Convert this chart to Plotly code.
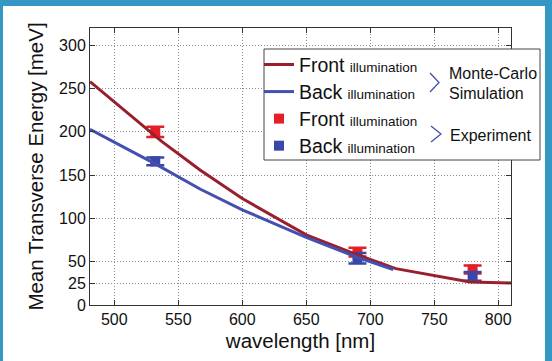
import plotly.graph_objects as go

# ---- data ----
sim_wavelength_front = [481, 537, 567, 600, 650, 690, 720, 778, 810]
sim_energy_front = [258, 189, 156, 123, 81, 58, 42, 26.5, 25.5]
sim_wavelength_back = [481, 532, 567, 600, 650, 690, 718]
sim_energy_back = [203, 163, 134, 110, 78, 55, 41]

exp_wavelength = [532, 690, 780]
exp_energy_front = [200, 61, 41]
exp_err_front = [6, 5, 4.5]
exp_energy_back = [166, 54, 33]
exp_err_back = [4.5, 6, 5]

x_ticks = [500, 550, 600, 650, 700, 750, 800]
y_ticks = [0, 25, 50, 100, 150, 200, 250, 300]

FONT = "Liberation Sans, Arial, Helvetica, sans-serif"
RED_LINE = "#9a1f2e"
BLUE_LINE = "#4350b0"
RED_MK = "#e51f28"
BLUE_MK = "#3a47a8"
TEAL = "#3597c4"

def lab(word):
    return (f"<span style='font-size:19.5px'>{word}</span> "
            f"<span style='font-size:13.5px'>illumination</span>")

fig = go.Figure()

# experiment (drawn first, lines on top)
fig.add_trace(go.Scatter(
    x=exp_wavelength, y=exp_energy_front, mode="markers", name=lab("Front"),
    legendrank=3,
    marker=dict(symbol="square", size=10, color=RED_MK),
    error_y=dict(type="data", array=exp_err_front, color=RED_MK, thickness=2.5, width=9),
))
fig.add_trace(go.Scatter(
    x=exp_wavelength, y=exp_energy_back, mode="markers", name=lab("Back"),
    legendrank=4,
    marker=dict(symbol="square", size=10, color=BLUE_MK),
    error_y=dict(type="data", array=exp_err_back, color=BLUE_MK, thickness=2.5, width=9),
))
# simulation
fig.add_trace(go.Scatter(
    x=sim_wavelength_front, y=sim_energy_front, mode="lines", name=lab("Front"),
    legendrank=1, line=dict(color=RED_LINE, width=3),
))
fig.add_trace(go.Scatter(
    x=sim_wavelength_back, y=sim_energy_back, mode="lines", name=lab("Back"),
    legendrank=2, line=dict(color=BLUE_LINE, width=3),
))

W, H = 552, 361
L, R, T, B = 90, 41, 28, 56
pw, ph = W - L - R, H - T - B

def px(x):
    return (x - L) / pw

def py(y):
    return (H - B - y) / ph

shapes = [
    # white panel over teal frame
    dict(type="rect", xref="paper", yref="paper", layer="below",
         x0=px(3), x1=px(545), y0=py(380), y1=py(6),
         fillcolor="white", line=dict(width=0)),
    # legend box
    dict(type="rect", xref="paper", yref="paper", layer="above",
         x0=px(264), x1=px(540), y0=py(160), y1=py(49),
         fillcolor="white", line=dict(color="#444", width=1)),
    # brackets
    dict(type="path", xref="paper", yref="paper", layer="above",
         path=f"M {px(430)} {py(73)} L {px(439)} {py(82.5)} L {px(430)} {py(92)}",
         line=dict(color="#3a4aa8", width=1.2)),
    dict(type="path", xref="paper", yref="paper", layer="above",
         path=f"M {px(431)} {py(126)} L {px(441)} {py(134)} L {px(431)} {py(142)}",
         line=dict(color="#3a4aa8", width=1.2)),
]

annotations = [
    dict(text="Monte-Carlo", x=px(447), y=py(73), xref="paper", yref="paper",
         xanchor="left", yanchor="middle", showarrow=False,
         font=dict(family=FONT, size=16, color="#111")),
    dict(text="Simulation", x=px(447), y=py(93), xref="paper", yref="paper",
         xanchor="left", yanchor="middle", showarrow=False,
         font=dict(family=FONT, size=16, color="#111")),
    dict(text="Experiment", x=px(448), y=py(135), xref="paper", yref="paper",
         xanchor="left", yanchor="middle", showarrow=False,
         font=dict(family=FONT, size=16, color="#111")),
]

axis_common = dict(
    showline=True, linecolor="#333", linewidth=1, mirror="ticks",
    ticks="inside", ticklen=5, tickcolor="#333", tickwidth=1,
    showgrid=True, gridcolor="#8c8c8c", gridwidth=1, griddash="1px,2px",
    zeroline=False, tickfont=dict(family=FONT, size=16, color="#111"),
)

fig.update_layout(
    width=W, height=H,
    margin=dict(l=L, r=R, t=T, b=B),
    paper_bgcolor=TEAL, plot_bgcolor="white",
    font=dict(family=FONT, color="#111"),
    xaxis=dict(range=[481, 810], tickvals=x_ticks,
               title=dict(text="wavelength [nm]", font=dict(family=FONT, size=20.5, color="#111"), standoff=6),
               **axis_common),
    yaxis=dict(range=[0, 320], tickvals=y_ticks,
               title=dict(text="Mean Transverse Energy [meV]", font=dict(family=FONT, size=20.5, color="#111"), standoff=9),
               **axis_common),
    legend=dict(x=px(259), y=py(46), xanchor="left", yanchor="top",
                bgcolor="rgba(0,0,0,0)", borderwidth=0,
                font=dict(family=FONT, size=18.5, color="#111"),
                itemwidth=30, tracegroupgap=0),
    shapes=shapes, annotations=annotations,
    showlegend=True,
)

fig.write_html(
    "out.html",
    config={"displayModeBar": False},
    post_script="document.body.style.margin='0';document.body.style.overflow='hidden';",
)
